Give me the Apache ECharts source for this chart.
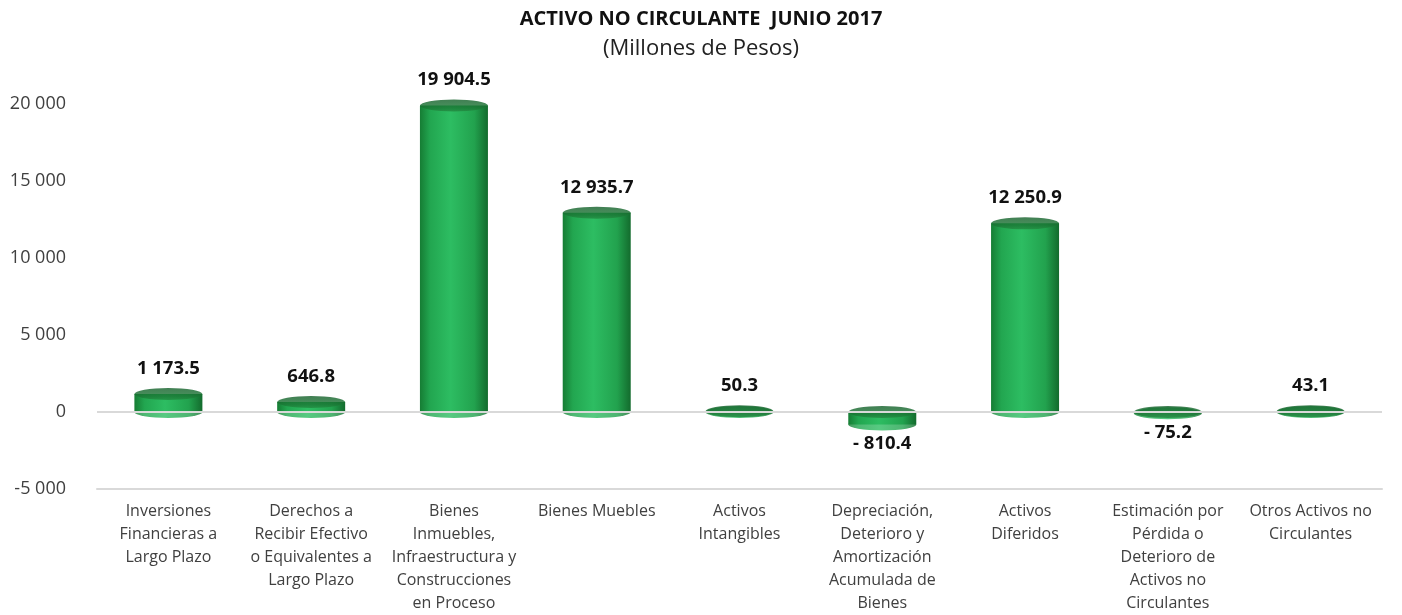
<!DOCTYPE html>
<html>
<head>
<meta charset="utf-8">
<title>Activo no circulante</title>
<script src="https://cdn.jsdelivr.net/npm/echarts@6/dist/echarts.min.js"></script>
<style>
  html, body { margin: 0; padding: 0; background: #fff; }
  #chart { width: 1402px; height: 615px; }
</style>
</head>
<body>
<div id="chart"></div>
<script>
const categories = [
  'Inversiones\nFinancieras a\nLargo Plazo',
  'Derechos a\nRecibir Efectivo\no Equivalentes a\nLargo Plazo',
  'Bienes\nInmuebles,\nInfraestructura y\nConstrucciones\nen Proceso',
  'Bienes Muebles',
  'Activos\nIntangibles',
  'Depreciación,\nDeterioro y\nAmortización\nAcumulada de\nBienes',
  'Activos\nDiferidos',
  'Estimación por\nPérdida o\nDeterioro de\nActivos no\nCirculantes',
  'Otros Activos no\nCirculantes'
]
const values = [1173.5, 646.8, 19904.5, 12935.7, 50.3, -810.4, 12250.9, -75.2, 43.1]
const yTicks = [-5000, 0, 5000, 10000, 15000, 20000]

const fontFamily = '"Open Sans", "Noto Sans", sans-serif'
const barW = 68

// 12 345.6 style, with a space after a minus sign
function fmt(v, dec) {
  const s = Math.abs(v).toFixed(dec)
  const parts = s.split('.')
  parts[0] = parts[0].replace(/\B(?=(\d{3})+(?!\d))/g, ' ')
  const out = parts.join('.')
  return v < 0 ? '- ' + out : out
}

const chart = echarts.init(document.getElementById('chart'))

const bodyColor = new echarts.graphic.LinearGradient(0, 0, 1, 0, [
  { offset: 0, color: '#167d34' },
  { offset: 0.15, color: '#22a650' },
  { offset: 0.45, color: '#2dbd62' },
  { offset: 0.8, color: '#22a24e' },
  { offset: 1, color: '#136b2d' }
])
const topColor = new echarts.graphic.LinearGradient(0, 0, 0, 1, [
  { offset: 0, color: '#125f28' },
  { offset: 0.7, color: '#1a7634' },
  { offset: 1, color: '#238a41' }
])

const option = {
  animation: false,
  textStyle: { fontFamily },
  title: {
    text: 'ACTIVO NO CIRCULANTE  JUNIO 2017',
    subtext: '(Millones de Pesos)',
    left: 'center',
    top: 4,
    itemGap: 9,
    textStyle: { fontFamily, fontSize: 20, fontWeight: 'bold', color: '#111' },
    subtextStyle: { fontFamily, fontSize: 22, color: '#222' }
  },
  grid: { left: 97, right: 20, top: 104, bottom: 125 },
  xAxis: {
    type: 'category',
    data: categories,
    axisLine: { onZero: false, lineStyle: { color: '#d9d9d9', width: 2 } },
    axisTick: { show: false },
    axisLabel: {
      interval: 0,
      margin: 11,
      fontSize: 16,
      lineHeight: 23,
      color: '#404040',
      verticalAlign: 'top'
    }
  },
  yAxis: {
    type: 'value',
    min: yTicks[0],
    max: yTicks[yTicks.length - 1],
    interval: 5000,
    axisLine: { show: false },
    axisTick: { show: false },
    splitLine: { show: false },
    axisLabel: {
      margin: 31,
      fontSize: 18,
      color: '#404040',
      formatter: v => fmt(v, 0).replace('- ', '-')
    }
  },
  series: [
    {
      // bottom cap of the cylinders
      type: 'scatter',
      data: values.map(v => Math.min(v, 0)),
      symbol: 'circle',
      symbolSize: [barW, 12],
      itemStyle: { color: bodyColor },
      silent: true,
      z: 2
    },
    {
      type: 'bar',
      data: values.map(v => ({
        value: v,
        label: { position: v < 0 ? 'bottom' : 'top', distance: v < 0 ? 10 : 16 }
      })),
      barWidth: barW,
      itemStyle: { color: bodyColor },
      label: {
        show: true,
        fontSize: 18.5,
        fontWeight: 'bold',
        color: '#111',
        formatter: p => fmt(p.value, 1)
      },
      markLine: {
        silent: true,
        symbol: 'none',
        label: { show: false },
        lineStyle: { color: '#d9d9d9', width: 2, type: 'solid' },
        data: [{ yAxis: 0 }]
      },
      z: 3
    },
    {
      // top cap of the cylinders
      type: 'scatter',
      data: values.map(v => Math.max(v, 0)),
      symbol: 'circle',
      symbolSize: [barW, 12],
      itemStyle: { color: topColor },
      silent: true,
      z: 4
    }
  ]
}

option && chart.setOption(option)
</script>
</body>
</html>
